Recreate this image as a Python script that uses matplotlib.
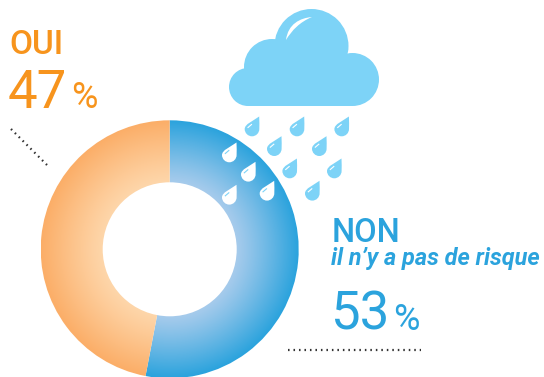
import numpy as np
import matplotlib
matplotlib.use('Agg')
import matplotlib.pyplot as plt
from matplotlib.colors import LinearSegmentedColormap
from matplotlib.patches import Circle, Rectangle, PathPatch
from matplotlib.path import Path

W, H = 544, 377

labels = ['NON', 'OUI']
values = [53, 47]
subtitle = "il n’y a pas de risque"

BLUE = '#2ba3dd'
ORANGE = '#f7941d'
SKY = '#7dd3f7'

cx, cy, r_out, r_in = 169.7, 249.3, 129, 67

fig = plt.figure(figsize=(W / 100, H / 100), dpi=100)
ax = fig.add_axes([0, 0, 1, 1])

# y axis points down so everything can be measured in image pixels
wedges, _ = ax.pie(values, center=(cx, cy), radius=r_out, startangle=-90,
                   counterclock=True, colors=['none', 'none'], frame=False)
ax.set_xlim(0, W)
ax.set_ylim(H, 0)
ax.set_aspect('auto')
ax.axis('off')


def gradient(wedge, inner, outer):
    cmap = LinearSegmentedColormap.from_list('g', [inner, outer])
    xx, yy = np.meshgrid(np.arange(cx - r_out, cx + r_out + 1),
                         np.arange(cy - r_out, cy + r_out + 1))
    rr = np.hypot(xx - cx, yy - cy)
    t = np.clip((rr - r_in) / (r_out - r_in), 0, 1) ** 1.1
    im = ax.imshow(t, cmap=cmap, vmin=0, vmax=1, aspect='auto', zorder=1,
                   extent=(cx - r_out, cx + r_out, cy + r_out, cy - r_out))
    im.set_clip_path(wedge)


gradient(wedges[0], '#a6cbec', '#2ba3dd')
gradient(wedges[1], '#fed6aa', '#fbae68')
ax.set_xlim(0, W)
ax.set_ylim(H, 0)
ax.add_patch(Circle((cx, cy), r_in, fc='white', ec='none', zorder=2))

# cloud
for c, r in [((311.5, 46), 37), ((272, 67), 28), ((248, 87), 19), ((352.5, 79.5), 26.5)]:
    ax.add_patch(Circle(c, r, fc=SKY, ec='none', zorder=3))
ax.add_patch(Rectangle((248, 60), 105, 46, fc=SKY, ec='none', zorder=3))
ax.add_patch(PathPatch(Path([(286, 40), (288, 24), (300, 18), (312, 17), (300, 22), (292, 30), (286, 40)],
                            [Path.MOVETO, Path.CURVE4, Path.CURVE4, Path.CURVE4,
                             Path.CURVE4, Path.CURVE4, Path.CURVE4]),
                       fc='white', ec='none', zorder=4))


def drop(x, y, color, shine):
    r = 7.3
    k = 0.5523 * r
    verts = [(x + 7.2, y - 12.5), (x + 7.5, y - 8), (x + r, y - 3), (x + r, y),
             (x + r, y + k), (x + k, y + r), (x, y + r),
             (x - k, y + r), (x - r, y + k), (x - r, y),
             (x - r, y - 5), (x + 1, y - 8), (x + 7.2, y - 12.5)]
    codes = [Path.MOVETO] + [Path.CURVE4] * 12
    ax.add_patch(PathPatch(Path(verts, codes), fc=color, ec='none', zorder=5))
    ax.plot([x - 4, x - 0.5], [y - 1.5, y - 4.5], color=shine, lw=0.8, zorder=6)


for x, y in [(252, 129), (297, 129), (341.7, 129), (274.3, 148.7), (319.3, 148.7),
             (289.7, 171), (334.3, 171), (312.3, 193.3)]:
    drop(x, y, SKY, 'white')
for x, y in [(229.3, 155), (248.3, 174.3), (229.3, 197.3), (267, 193.3)]:
    drop(x, y, 'white', SKY)

# dotted leader lines
dots = (0, (0.7, 1.77))
ax.plot([11, 47], [129, 165], ls=dots, color='#333333', lw=1.6, zorder=3)
ax.plot([288, 421], [349.5, 349.5], ls=dots, color='#333333', lw=1.6, zorder=3)

font = 'Roboto'
ax.text(9, 54, labels[1], color=ORANGE, fontsize=24, family=font, weight='medium', va='baseline')
ax.text(8, 108, str(values[1]), color=ORANGE, fontsize=38, family=font, va='baseline')
ax.text(71, 108, '%', color=ORANGE, fontsize=26, family=font, va='baseline')

ax.text(332, 242, labels[0], color=BLUE, fontsize=23.5, family=font, weight='medium', va='baseline')
ax.text(331, 265, subtitle, color=BLUE, fontsize=16.9, family=font, style='italic', weight='bold', va='baseline')
ax.text(330, 330, str(values[0]), color=BLUE, fontsize=38, family=font, va='baseline')
ax.text(393, 330, '%', color=BLUE, fontsize=26, family=font, va='baseline')

fig.savefig('out.png', dpi=100, facecolor='white')
